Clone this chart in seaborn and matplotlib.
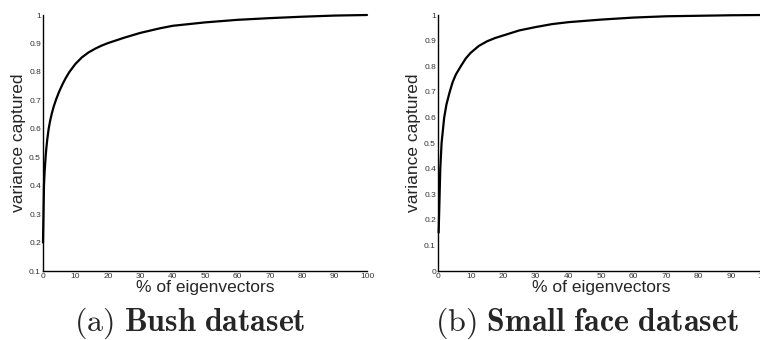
import matplotlib
matplotlib.use("Agg")
import matplotlib.pyplot as plt
import seaborn as sns
import pandas as pd

# ---- data ----
pct_bush = [0, 0.3, 0.5, 0.8, 1.0, 1.3, 1.75, 2.2, 2.7, 3.3, 4.1, 5, 6, 7, 8.1,
            10, 12, 14, 16, 18, 20, 25, 30, 36, 40, 50, 60, 70, 80, 90, 100]
var_bush = [0.2, 0.4, 0.45, 0.5, 0.528, 0.561, 0.6, 0.628, 0.653, 0.678, 0.705,
            0.731, 0.756, 0.778, 0.799, 0.828, 0.851, 0.868, 0.881, 0.892, 0.901,
            0.92, 0.937, 0.953, 0.962, 0.974, 0.983, 0.989, 0.994, 0.998, 1.0]

pct_face = [0.2, 0.5, 0.7, 1.1, 1.9, 2.6, 3.6, 4.5, 5.5, 7, 8.5, 10, 12.5, 15,
            17.5, 20, 25, 30, 35, 40, 50, 60, 70, 80, 90, 100]
var_face = [0.15, 0.3, 0.4, 0.5, 0.6, 0.651, 0.7, 0.738, 0.768, 0.8, 0.83, 0.852,
            0.879, 0.897, 0.91, 0.92, 0.94, 0.953, 0.9645, 0.972, 0.982, 0.99,
            0.995, 0.997, 0.999, 1.0]

x_ticks = [0, 10, 20, 30, 40, 50, 60, 70, 80, 90, 100]
y_ticks_bush = [0.1, 0.2, 0.3, 0.4, 0.5, 0.6, 0.7, 0.8, 0.9, 1.0]
y_ticks_face = [0, 0.1, 0.2, 0.3, 0.4, 0.5, 0.6, 0.7, 0.8, 0.9, 1.0]
x_label = "% of eigenvectors"
y_label = "variance captured"
captions = [r"$\mathrm{(a)}\ \mathbf{Bush\ dataset}$",
            r"$\mathrm{(b)}\ \mathbf{Small\ face\ dataset}$"]

sns.set_style("white")
plt.rcParams["font.family"] = ["Liberation Sans", "DejaVu Sans"]
plt.rcParams["mathtext.fontset"] = "cm"

fig = plt.figure(figsize=(7.6, 3.4), dpi=100)
W, H = 760.0, 340.0
ax1 = fig.add_axes([43 / W, 1 - 271 / H, 324 / W, 256 / H])
ax2 = fig.add_axes([438 / W, 1 - 271 / H, 326 / W, 256 / H])


def fmt(v):
    return "%g" % v


specs = [
    (ax1, pct_bush, var_bush, (0.1, 1.0), y_ticks_bush),
    (ax2, pct_face, var_face, (0.0, 1.0), y_ticks_face),
]
for ax, xs, ys, ylim, yt in specs:
    df = pd.DataFrame({"pct": xs, "var": ys})
    sns.lineplot(data=df, x="pct", y="var", ax=ax, color="black", linewidth=1.6,
                 clip_on=False)
    ax.set_xlim(0, 100)
    ax.set_ylim(*ylim)
    ax.set_xticks(x_ticks)
    ax.set_xticklabels([fmt(v) for v in x_ticks])
    ax.set_yticks(yt)
    ax.set_yticklabels([fmt(v) for v in yt])
    ax.tick_params(direction="in", length=2.5, width=0.8, labelsize=6,
                   labelcolor="#333333", color="black", pad=1.5)
    for s in ["top", "right"]:
        ax.spines[s].set_visible(False)
    for s in ["left", "bottom"]:
        ax.spines[s].set_color("black")
        ax.spines[s].set_linewidth(1.0)
    ax.set_xlabel(x_label, fontsize=12.5, labelpad=0)
    ax.set_ylabel(y_label, fontsize=12.5, labelpad=2)

fig.text(190 / W, 1 - 323 / H, captions[0], fontsize=23, ha="center", va="center")
fig.text(587 / W, 1 - 323 / H, captions[1], fontsize=23, ha="center", va="center")

fig.savefig("out.png", dpi=100)
